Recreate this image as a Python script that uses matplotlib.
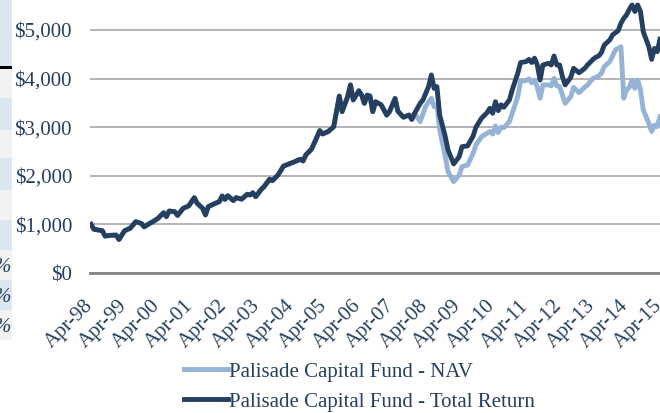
import numpy as np
import matplotlib.pyplot as plt
import matplotlib.transforms as mtrans
from matplotlib.patches import Rectangle

# month offsets since Apr-98 and values
tr_months = [0, 1, 4, 5, 7, 9, 10, 12, 14, 16, 18, 19, 21, 22, 24, 26, 27, 28, 30, 31,
             33, 35, 37, 38, 40, 41, 42, 44, 46, 47, 48, 49, 51, 52, 54, 56, 57, 58, 59, 61,
             62, 64, 65, 67, 69, 71, 73, 75, 76, 77, 79, 80, 82, 83, 85, 87, 88, 89, 90, 92,
             93, 94, 96, 97, 98, 99, 100, 101, 102, 104, 106, 107, 109, 110, 112, 114, 115, 116]
tr_values = [1000, 900, 870, 760, 775, 780, 690, 870, 920, 1055, 1020, 950, 1020, 1050, 1125, 1240, 1160, 1275, 1260, 1185,
             1330, 1380, 1550, 1435, 1330, 1195, 1365, 1420, 1470, 1585, 1515, 1590, 1490, 1550, 1520, 1620, 1605, 1650, 1570, 1720,
             1775, 1930, 1900, 2015, 2200, 2245, 2290, 2340, 2305, 2430, 2545, 2670, 2930, 2860, 2910, 3010, 3320, 3640, 3320, 3630,
             3870, 3560, 3750, 3660, 3490, 3660, 3640, 3320, 3525, 3460, 3250, 3320, 3590, 3330, 3205, 3250, 3160, 3285]

# after the NAV / total return split
tr_months_late = [118, 119, 121, 122, 123, 124, 125, 127, 128, 130, 132, 133, 135, 137, 138, 140, 142, 143, 144, 145,
                  146, 147, 148, 150, 151, 153, 154, 156, 157, 158, 159, 160, 161, 162, 164, 165, 166, 167, 168, 169,
                  170, 172, 173, 174, 175, 177, 178, 180, 181, 182, 183, 184, 186, 187, 189, 190, 191, 192, 193, 194,
                  195, 196, 197, 198, 200, 201, 202, 203, 204]
tr_values_late = [3490, 3560, 3835, 4075, 3800, 3835, 3250, 2805, 2530, 2245, 2395, 2600, 2615, 2820, 3000, 3185, 3300, 3390, 3285, 3525,
                  3340, 3460, 3410, 3560, 3765, 4110, 4330, 4350, 4395, 4330, 4420, 4280, 3970, 4280, 4315, 4280, 4465, 4280, 4280, 4040,
                  3870, 4025, 4210, 4165, 4120, 4210, 4280, 4395, 4440, 4465, 4535, 4690, 4795, 4900, 4985, 5140, 5240, 5310, 5425, 5515,
                  5380, 5515, 5380, 4965, 4655, 4395, 4620, 4555, 4810]

nav_months_late = [118, 120, 122, 123, 124, 125, 127, 128, 130, 132, 133, 135, 137, 138, 140, 142, 143, 144, 145, 146,
                   147, 148, 150, 151, 153, 154, 156, 157, 158, 159, 160, 161, 162, 164, 165, 166, 167, 168, 169, 170,
                   172, 173, 174, 175, 177, 178, 180, 181, 182, 183, 184, 186, 187, 188, 190, 191, 192, 193, 194, 195,
                   196, 197, 198, 200, 201, 202, 203, 204]
nav_values_late = [3115, 3435, 3595, 3420, 3455, 2945, 2395, 2085, 1880, 2015, 2190, 2220, 2465, 2635, 2805, 2875, 2910, 2860, 3025, 2890,
                   3000, 2990, 3115, 3285, 3630, 3940, 3960, 3995, 3915, 3970, 3820, 3595, 3870, 3870, 3850, 4005, 3850, 3835, 3660, 3490,
                   3630, 3820, 3765, 3710, 3820, 3870, 4005, 4025, 4055, 4110, 4245, 4350, 4465, 4590, 4655, 3595, 3765, 3820, 3970, 3800,
                   3970, 3765, 3355, 3080, 2910, 3045, 3010, 3215]

tick_labels = ["Apr-98", "Apr-99", "Apr-00", "Apr-01", "Apr-02", "Apr-03", "Apr-04", "Apr-05", "Apr-06",
               "Apr-07", "Apr-08", "Apr-09", "Apr-10", "Apr-11", "Apr-12", "Apr-13", "Apr-14", "Apr-15"]
y_ticks = [0, 1000, 2000, 3000, 4000, 5000]

DARK = "#243F60"
LIGHT = "#95B3D7"
TEXT = "#243F60"
FONT = "Liberation Serif"

W, H = 660, 413
fig = plt.figure(figsize=(W / 100, H / 100), dpi=100)

# cropped table fragments on the left edge
bands = [(0, 66, "#DCE6F1"), (66, 69, "#000000"), (69, 98, "#F2F2F2"), (98, 130, "#DCE6F1"),
         (130, 158, "#F2F2F2"), (158, 190, "#DCE6F1"), (190, 220, "#F2F2F2"), (220, 250, "#DCE6F1"),
         (250, 280, "#F2F2F2"), (280, 310, "#DCE6F1"), (310, 340, "#F2F2F2")]
for top, bot, c in bands:
    fig.patches.append(Rectangle((0, 1 - bot / H), 12 / W, (bot - top) / H,
                                 transform=fig.transFigure, color=c, lw=0, zorder=0))
for yp in [268, 298, 327]:
    fig.text(11 / W, 1 - yp / H, "%", ha="right", va="center", fontsize=15,
             family=FONT, style="italic", color=TEXT)

ax = fig.add_axes([90 / W, (H - 273) / H, (W - 90) / W, 273 / H])

nav_m = tr_months + nav_months_late
nav_v = tr_values + nav_values_late
tr_m = tr_months + tr_months_late
tr_v = tr_values + tr_values_late

ax.plot(nav_m, nav_v, color=LIGHT, lw=3.5, label="Palisade Capital Fund - NAV")
ax.plot(tr_m, tr_v, color=DARK, lw=3.5, label="Palisade Capital Fund - Total Return")

ax.set_xlim(-0.4, 204)
ax.set_ylim(0, 5617)

ax.set_yticks(y_ticks)
ax.set_yticklabels([f"${v:,}" for v in y_ticks])
ax.set_xticks(np.arange(0, 12 * len(tick_labels), 12))
ax.set_xticklabels(tick_labels, rotation=45, ha="right")

ax.grid(axis="y", color="#A0A0A0", lw=1.1)
ax.set_axisbelow(True)
for s in ["top", "right", "left"]:
    ax.spines[s].set_visible(False)
ax.spines["bottom"].set_color("#858585")
ax.spines["bottom"].set_linewidth(2.0)
ax.tick_params(axis="both", length=0, labelsize=15, labelcolor=TEXT)
ax.tick_params(axis="y", pad=13)
ax.tick_params(axis="x", pad=14)
shift = mtrans.ScaledTranslation(6 / 100, -4 / 100, fig.dpi_scale_trans)
for lab in ax.get_xticklabels():
    lab.set_family(FONT)
    lab.set_transform(lab.get_transform() + shift)
for lab in ax.get_yticklabels():
    lab.set_family(FONT)

fig.legend(loc="upper left", bbox_to_anchor=(184 / W, 1 - 362 / H), frameon=False,
           prop={"family": FONT, "size": 15}, labelcolor=TEXT,
           handlelength=2.1, handletextpad=0.05, labelspacing=0.5, borderpad=0, borderaxespad=0)

fig.savefig("out.png", dpi=100)
